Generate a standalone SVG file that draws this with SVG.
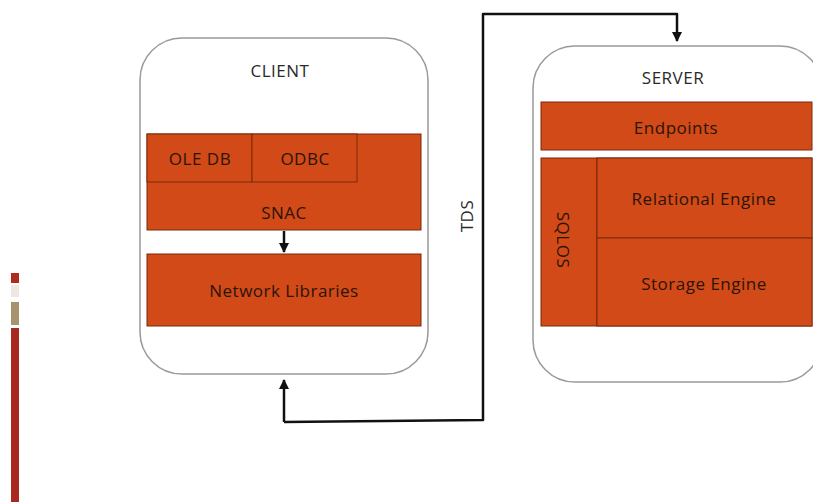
<svg xmlns="http://www.w3.org/2000/svg" width="813" height="502" viewBox="0 0 813 502">
<style>
.box{fill:#fff;stroke:#9a9a9a;stroke-width:1.5}
.blk{fill:#D14A17;stroke:#7a2a0c;stroke-width:1}
.ln{fill:none;stroke:#6b240a;stroke-width:1.2}
.t{font-family:"Open Sans","Noto Sans",sans-serif;font-size:17px;letter-spacing:0.5px;fill:#2a2a2a;text-anchor:middle;dominant-baseline:central}
.bt{fill:#2b140a}
.conn{fill:none;stroke:#111;stroke-width:2.5;stroke-linejoin:round}
</style>
<defs>
<marker id="ah" viewBox="0 0 10 10" refX="9" refY="5" markerWidth="4" markerHeight="4" orient="auto" markerUnits="strokeWidth">
<path d="M0,0 L10,5 L0,10 z" fill="#111"/>
</marker>
</defs>
<g id="legend-bar">
<rect x="11" y="273" width="8" height="10" fill="#B02A1E"/>
<rect x="11" y="285" width="8" height="12" fill="#EEE8E0"/>
<rect x="11" y="302" width="8" height="23" fill="#A8946C"/>
<rect x="11" y="328" width="8" height="174" fill="#A9281F"/>
</g>
<g id="client">
<rect class="box" x="140" y="38" width="288" height="336" rx="42" ry="42"/>
<text class="t" x="280" y="70">CLIENT</text>
</g>
<g id="snac">
<rect class="blk" x="147" y="134" width="274" height="96"/>
<text class="t bt" x="284" y="212">SNAC</text>
</g>
<g id="oledb">
<rect class="blk" x="147" y="134" width="105" height="48"/>
<text class="t bt" x="200" y="158">OLE DB</text>
</g>
<g id="odbc">
<rect class="blk" x="252" y="134" width="105" height="48"/>
<text class="t bt" x="305" y="158">ODBC</text>
</g>
<g id="netlib">
<rect class="blk" x="147" y="254" width="274" height="72"/>
<text class="t bt" x="284" y="290">Network Libraries</text>
</g>
<g id="server">
<rect class="box" x="533" y="46" width="289" height="336" rx="42" ry="42"/>
<text class="t" x="673" y="77">SERVER</text>
</g>
<g id="endpoints">
<rect class="blk" x="541" y="102" width="271" height="48"/>
<text class="t bt" x="676" y="127">Endpoints</text>
</g>
<g id="sqlos">
<rect class="blk" x="541" y="158" width="271" height="168"/>
<line class="ln" x1="597" y1="158" x2="597" y2="326"/>
<text class="t bt" transform="translate(563 240) rotate(90)" x="0" y="0">SQLOS</text>
</g>
<g id="relational">
<rect class="blk" x="597" y="158" width="215" height="80"/>
<text class="t bt" x="704" y="198">Relational Engine</text>
</g>
<g id="storage">
<rect class="blk" x="597" y="238" width="215" height="88"/>
<text class="t bt" x="704" y="283">Storage Engine</text>
</g>
<g id="connectors">
<line class="conn" x1="284" y1="231" x2="284" y2="252" stroke-width="2" marker-end="url(#ah)"/>
<path class="conn" d="M284,422 L483,420 L483,14 L677,14 L677,41" marker-end="url(#ah)"/>
<path class="conn" d="M284,422 L284,380" marker-end="url(#ah)"/>
<text class="t" transform="translate(466 216) rotate(-90)" x="0" y="0">TDS</text>
</g>
</svg>
